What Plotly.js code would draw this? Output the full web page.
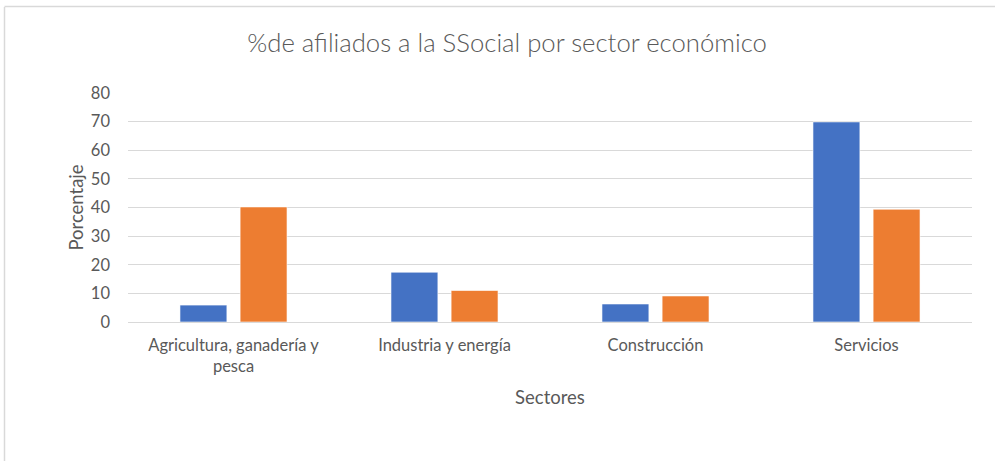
<!DOCTYPE html>
<html>
<head>
<meta charset="utf-8">
<script src="https://cdn.plot.ly/plotly-3.0.1.min.js"></script>
<style>
  html, body { margin: 0; padding: 0; background: #ffffff; }
  #chart { width: 995px; height: 461px; }
</style>
</head>
<body>
<div id="chart"></div>
<script>
const categories = ["Agricultura, ganadería y pesca", "Industria y energía", "Construcción", "Servicios"];
const tickLabels = ["Agricultura, ganadería y<br>pesca", "Industria y energía", "Construcción", "Servicios"];
const serie1 = [5.9, 17.4, 6.3, 69.9];
const serie2 = [40.2, 11.0, 9.1, 39.4];
const yTicks = [0, 10, 20, 30, 40, 50, 60, 70, 80];

const FONT = "Lato, 'Open Sans', sans-serif";
const GRAY = "#595959";

const traces = [
  {
    type: "bar", name: "Serie 1", x: categories, y: serie1,
    marker: { color: "#4472C4", line: { color: "rgba(255,255,255,0.6)", width: 1 } },
    hoverinfo: "skip"
  },
  {
    type: "bar", name: "Serie 2", x: categories, y: serie2,
    marker: { color: "#ED7D31", line: { color: "rgba(255,255,255,0.6)", width: 1 } },
    hoverinfo: "skip"
  }
];

const layout = {
  width: 995, height: 461,
  margin: { l: 128, r: 23, t: 93, b: 139 },
  paper_bgcolor: "#ffffff", plot_bgcolor: "#ffffff",
  showlegend: false,
  barmode: "group",
  bargap: 0.43,
  bargroupgap: 0.22,
  font: { family: FONT, color: GRAY, size: 16.5 },
  title: {
    text: "%de afiliados a la SSocial por sector económico",
    font: { family: FONT, size: 25.7, color: GRAY, weight: 300 },
    xref: "container", x: 0.5096, xanchor: "center",
    yref: "container", y: 1 - 43 / 461, yanchor: "middle"
  },
  xaxis: {
    type: "category",
    tickvals: categories,
    ticktext: tickLabels,
    tickfont: { family: FONT, size: 16.5, color: GRAY },
    showgrid: false, showline: false, zeroline: false,
    ticks: "",
    ticklabelstandoff: 11,
    title: { text: "Sectores", font: { family: FONT, size: 18.5, color: GRAY }, standoff: 16 }
  },
  yaxis: {
    range: [0, 80],
    tickvals: yTicks,
    tickfont: { family: FONT, size: 16.5, color: GRAY },
    showgrid: true, gridcolor: "#d9d9d9", gridwidth: 1,
    zeroline: true, zerolinecolor: "#d9d9d9", zerolinewidth: 1,
    showline: false, ticks: "",
    ticklabelstandoff: 17,
    title: { text: "Porcentaje", font: { family: FONT, size: 18.5, color: GRAY }, standoff: 2 }
  },
  shapes: [
    { type: "line", xref: "paper", yref: "paper",
      x0: (4.5 - 128) / 844, x1: (4.5 - 128) / 844, y0: (322 - 7) / 229, y1: (322 - 470) / 229,
      line: { color: "#d9d9d9", width: 1.5 } },
    { type: "line", xref: "paper", yref: "paper",
      x0: (4.5 - 128) / 844, x1: (1000 - 128) / 844, y0: (322 - 6.5) / 229, y1: (322 - 6.5) / 229,
      line: { color: "#d9d9d9", width: 1.5 } }
  ]
};

Plotly.newPlot("chart", traces, layout, { displayModeBar: false, staticPlot: true });
</script>
</body>
</html>
